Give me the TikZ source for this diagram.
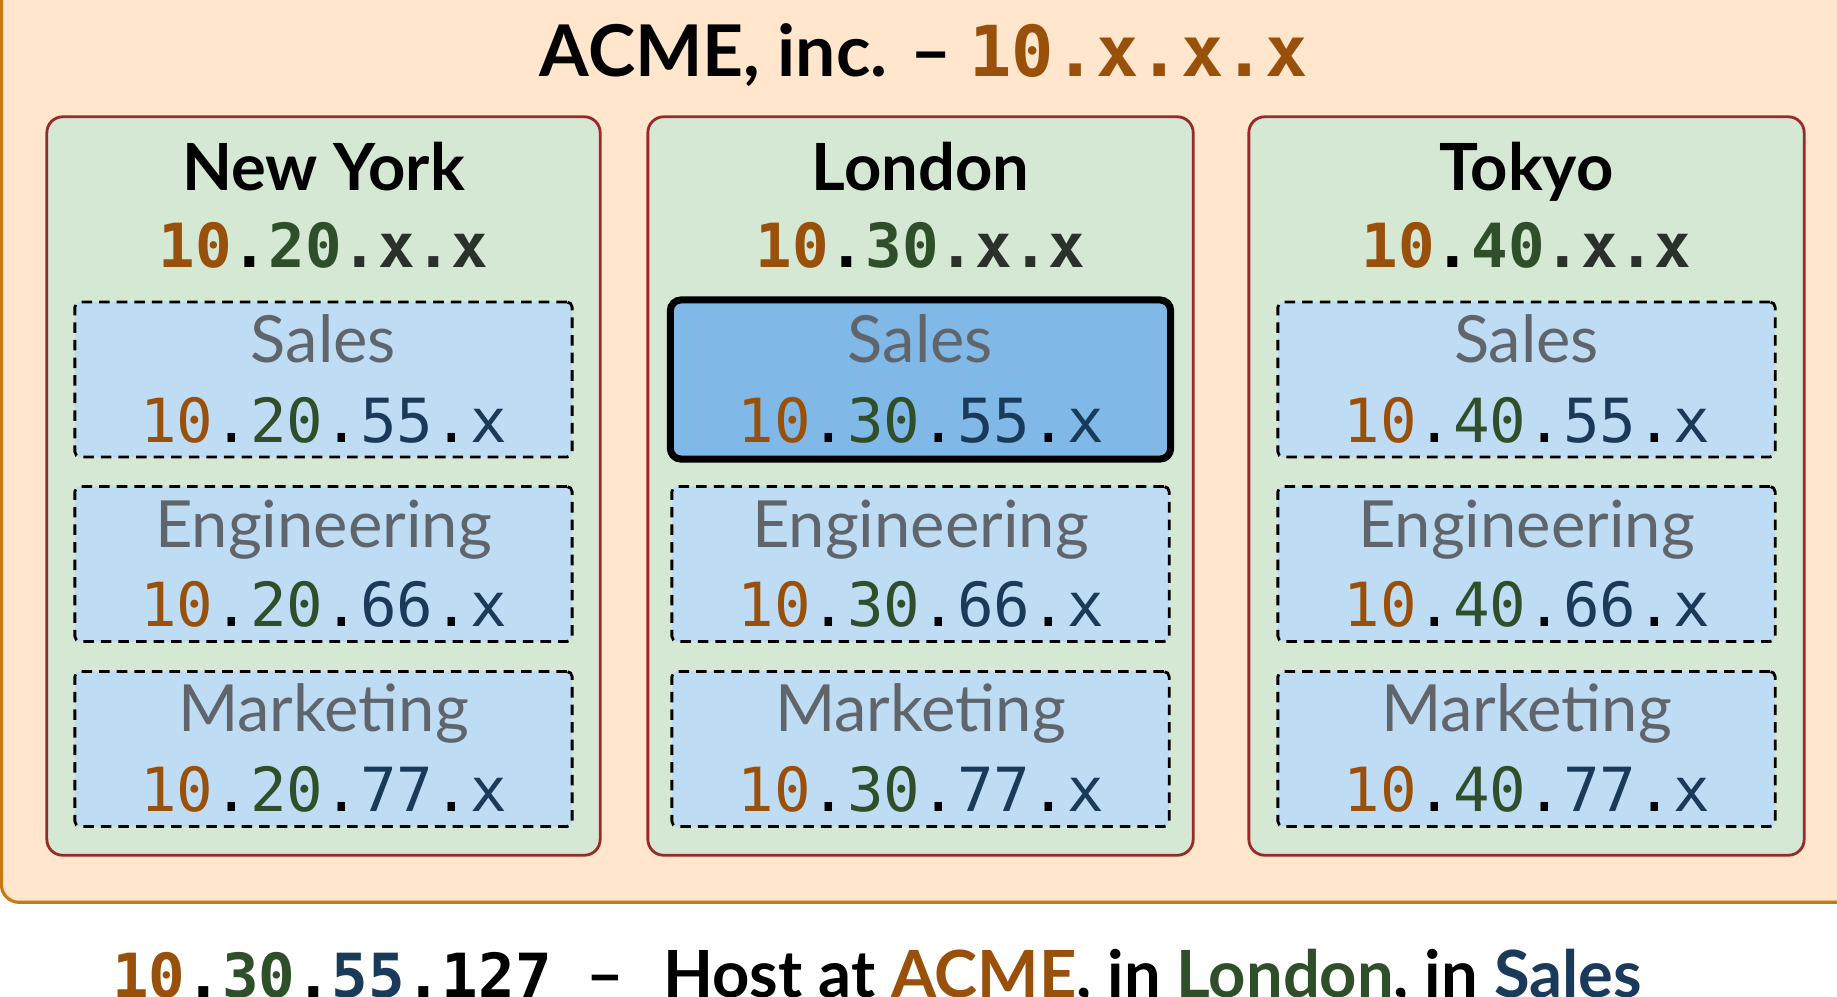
\documentclass[tikz,border=0pt]{standalone}
\usepackage{fontspec}
\setmainfont{Lato}
\setmonofont{DejaVu Sans Mono}
\definecolor{acmefill}{HTML}{FFE6CC}
\definecolor{acmeline}{HTML}{C87A10}
\definecolor{cityfill}{HTML}{D5E8D4}
\definecolor{cityline}{HTML}{9A2A2A}
\definecolor{deptfill}{HTML}{BFDCF5}
\definecolor{depthi}{HTML}{80B8E8}
\definecolor{ipA}{HTML}{99500A}
\definecolor{ipB}{HTML}{2F4F2A}
\definecolor{ipC}{HTML}{1A3A5A}
\definecolor{cityx}{HTML}{2A302A}
\definecolor{deptgray}{HTML}{60656B}
\newcommand{\cityip}[2]{{\ttfamily\bfseries\textcolor{ipA}{#1}.\textcolor{ipB}{#2}\textcolor{cityx}{.x.x}}}
\newcommand{\deptip}[3]{{\ttfamily\textcolor{ipA}{#1}.\textcolor{ipB}{#2}.\textcolor{ipC}{#3}.\textcolor{ipC}{x}}}

\begin{document}
\begin{tikzpicture}[x=0.01cm, y=-0.01cm]
  \tikzset{acme/.style  = {draw=acmeline, fill=acmefill, line width=0.9pt,
                           rounded corners=5pt, minimum width=18.68cm, minimum height=9.32cm},
           city/.style  = {draw=cityline, fill=cityfill, line width=0.8pt,
                           rounded corners=4.5pt, minimum height=7.38cm},
           dept/.style  = {draw=black, fill=deptfill, line width=0.8pt, dash pattern=on 3pt off 2pt,
                           rounded corners=1.5pt, minimum width=4.97cm, minimum height=1.55cm},
           depton/.style = {draw=black, fill=depthi, line width=2pt,
                           rounded corners=3pt, minimum width=5cm, minimum height=1.59cm},
           title/.style = {anchor=base, font=\fontsize{20.3}{22}\selectfont\bfseries},
           cityname/.style = {anchor=base, font=\fontsize{18.5}{20}\selectfont\bfseries},
           cityaddr/.style = {anchor=base, font=\fontsize{17.3}{20}\selectfont},
           deptname/.style = {anchor=base, text=deptgray, font=\fontsize{18.5}{20}\selectfont},
           deptaddr/.style = {anchor=base, font=\fontsize{17.3}{20}\selectfont},
           note/.style  = {anchor=base, font=\fontsize{18.5}{22}\selectfont\bfseries}}

  \useasboundingbox (0,0) rectangle (1837,996);
  \fill[white] (0,0) rectangle (1837,996);

%part ACME
\node[acme] (acme) at (936,436) {};
\node[title] (acme-title) at (924,76)
  {ACME, inc. -- {\ttfamily\fontsize{20}{22}\selectfont\textcolor{ipA}{\textbf{10}.x.x.x}}};

%part New York
\node[city, minimum width=5.53cm] (ny) at (323.5,486) {};
\node[cityname] (ny-name) at (323.5,190) {New York};
\node[cityaddr] (ny-addr) at (323.5,267) {\cityip{10}{20}};
\node[dept] (ny-sales) at (323.5,379.5) {};
\node[deptname] (ny-sales-name) at (323.5,362) {Sales};
\node[deptaddr] (ny-sales-addr) at (323.5,442) {\deptip{10}{20}{55}};
\node[dept] (ny-eng) at (323.5,564) {};
\node[deptname] (ny-eng-name) at (323.5,547) {Engineering};
\node[deptaddr] (ny-eng-addr) at (323.5,626) {\deptip{10}{20}{66}};
\node[dept] (ny-mkt) at (323.5,749) {};
\node[deptname] (ny-mkt-name) at (323.5,731) {Marketing};
\node[deptaddr] (ny-mkt-addr) at (323.5,811) {\deptip{10}{20}{77}};

%part London
\node[city, minimum width=5.45cm] (ldn) at (920.5,486) {};
\node[cityname] (ldn-name) at (920.5,190) {London};
\node[cityaddr] (ldn-addr) at (920.5,267) {\cityip{10}{30}};
\node[depton] (ldn-sales) at (920.5,379.5) {};
\node[deptname] (ldn-sales-name) at (920.5,362) {Sales};
\node[deptaddr] (ldn-sales-addr) at (920.5,442) {\deptip{10}{30}{55}};
\node[dept] (ldn-eng) at (920.5,564) {};
\node[deptname] (ldn-eng-name) at (920.5,547) {Engineering};
\node[deptaddr] (ldn-eng-addr) at (920.5,626) {\deptip{10}{30}{66}};
\node[dept] (ldn-mkt) at (920.5,749) {};
\node[deptname] (ldn-mkt-name) at (920.5,731) {Marketing};
\node[deptaddr] (ldn-mkt-addr) at (920.5,811) {\deptip{10}{30}{77}};

% part Tokyo
\node[city, minimum width=5.55cm] (tyo) at (1526.5,486) {};
\node[cityname] (tyo-name) at (1526.5,190) {Tokyo};
\node[cityaddr] (tyo-addr) at (1526.5,267) {\cityip{10}{40}};
\node[dept] (tyo-sales) at (1526.5,379.5) {};
\node[deptname] (tyo-sales-name) at (1526.5,362) {Sales};
\node[deptaddr] (tyo-sales-addr) at (1526.5,442) {\deptip{10}{40}{55}};
\node[dept] (tyo-eng) at (1526.5,564) {};
\node[deptname] (tyo-eng-name) at (1526.5,547) {Engineering};
\node[deptaddr] (tyo-eng-addr) at (1526.5,626) {\deptip{10}{40}{66}};
\node[dept] (tyo-mkt) at (1526.5,749) {};
\node[deptname] (tyo-mkt-name) at (1526.5,731) {Marketing};
\node[deptaddr] (tyo-mkt-addr) at (1526.5,811) {\deptip{10}{40}{77}};

% part host
\node[note] (host) at (877,997)
  {{\ttfamily\fontsize{17.3}{20}\selectfont\textcolor{ipA}{10}.\textcolor{ipB}{30}.\textcolor{ipC}{55}.127}\hspace{10pt}--\hspace{11pt}%
   Host at \textcolor{ipA}{ACME}, in \textcolor{ipB}{London}, in \textcolor{ipC}{Sales}};

\end{tikzpicture}
\end{document}
